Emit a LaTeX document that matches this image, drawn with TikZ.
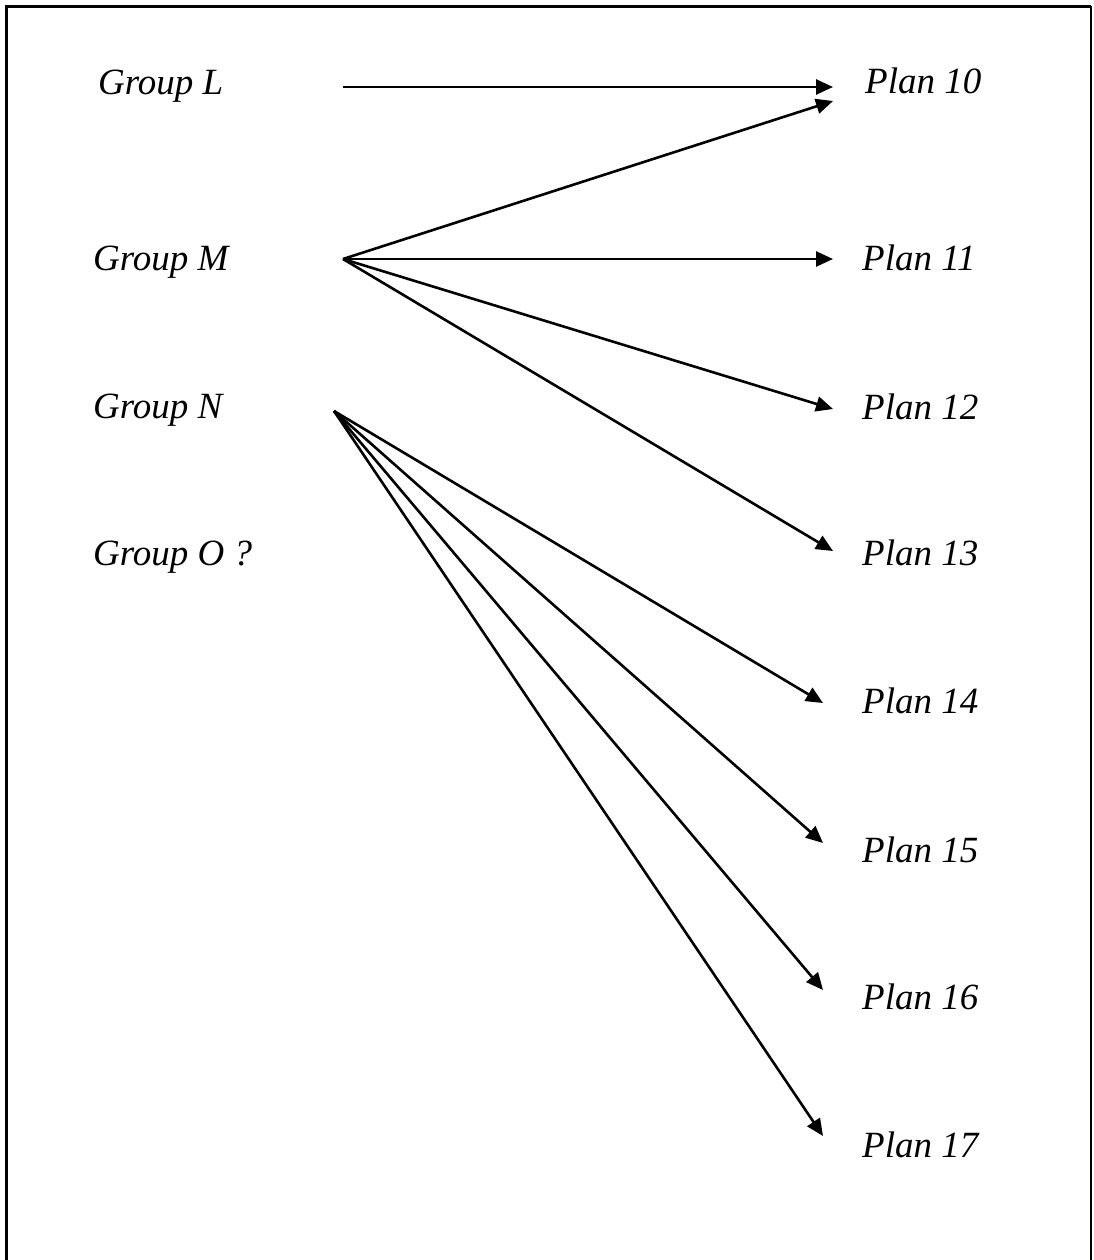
\documentclass[tikz,border=0pt]{standalone}
\usepackage{fontspec}
\setmainfont{Liberation Serif}
\usetikzlibrary{arrows.meta}
\begin{document}
\begin{tikzpicture}[x=1pt,y=-1pt,
  lbl/.style={inner sep=0pt,anchor=base west,font=\fontsize{37}{40}\selectfont\itshape},
  conn/.style={line width=2.6pt,-{Triangle[length=17pt,width=15pt]}}]
\useasboundingbox (0,0) rectangle (1093,1260);
% frame (open at the bottom)
\draw[line width=3pt] (6.5,1260) -- (6.5,6.5) -- (1091,6.5);
\draw[line width=2pt] (1091,6.5) -- (1091,1260);
% labels
\node[lbl] (gl) at (98,95) {Group L};
\node[lbl] (gm) at (93,270) {Group M};
\node[lbl] (gn) at (93,418) {Group N};
\node[lbl] (go) at (93,565) {Group O ?};
\node[lbl] (p10) at (865,94) {Plan 10};
\node[lbl] (p11) at (862,270) {Plan 11};
\node[lbl] (p12) at (862,419) {Plan 12};
\node[lbl] (p13) at (862,565) {Plan 13};
\node[lbl] (p14) at (862,713) {Plan 14};
\node[lbl] (p15) at (862,862) {Plan 15};
\node[lbl] (p16) at (862,1009) {Plan 16};
\node[lbl] (p17) at (862,1157) {Plan 17};
% connector ends
\coordinate (sl) at (343,87);
\coordinate (sm) at (343,259);
\coordinate (sn) at (334,411);
\coordinate (tl) at (833,87);
\coordinate (t10) at (833,101);
\coordinate (t11) at (833,259);
\coordinate (t12) at (833,409);
\coordinate (t13) at (833,551);
\coordinate (t14) at (823,703);
\coordinate (t15) at (823,843);
\coordinate (t16) at (823,990);
\coordinate (t17) at (823,1136);
% connectors
\draw[conn] (sl) -- (tl);
\draw[conn] (sm) -- (t10);
\draw[conn] (sm) -- (t11);
\draw[conn] (sm) -- (t12);
\draw[conn] (sm) -- (t13);
\draw[conn] (sn) -- (t14);
\draw[conn] (sn) -- (t15);
\draw[conn] (sn) -- (t16);
\draw[conn] (sn) -- (t17);
\end{tikzpicture}
\end{document}
